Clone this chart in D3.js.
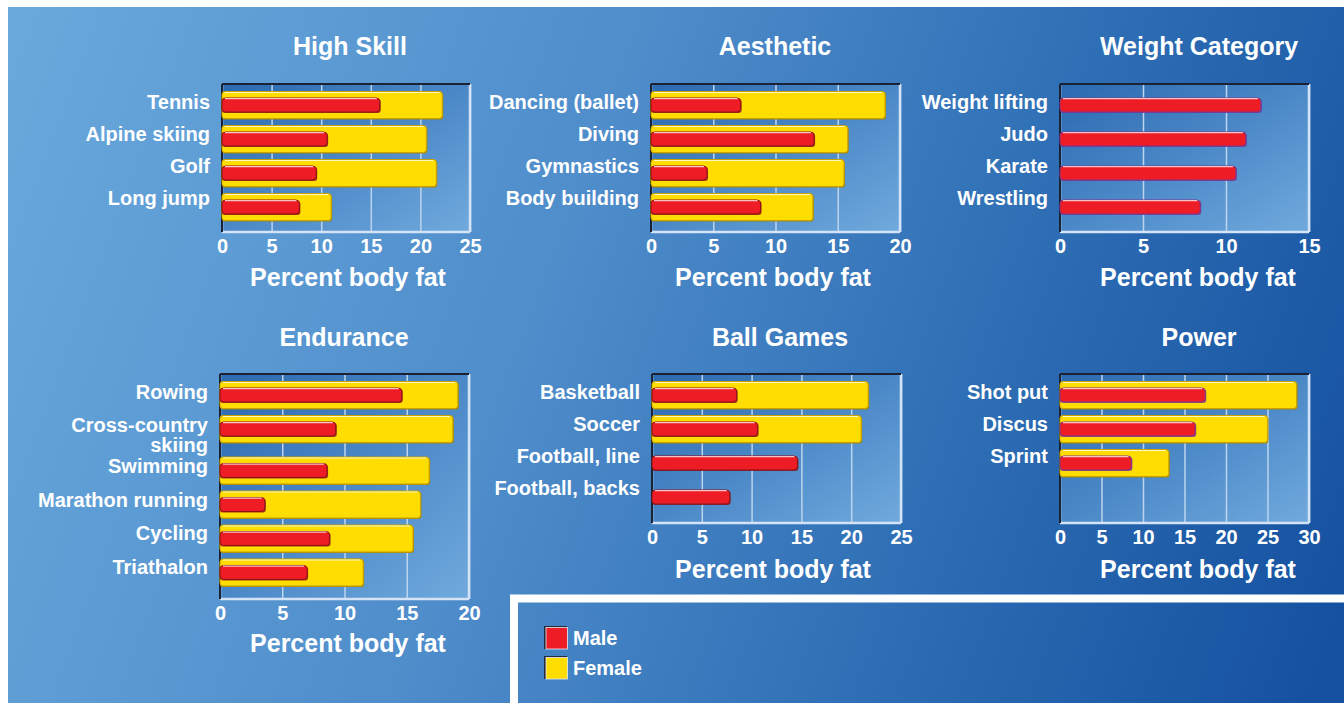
<!DOCTYPE html>
<html>
<head>
<meta charset="utf-8">
<script src="https://cdn.jsdelivr.net/npm/d3@7"></script>
<style>
  html, body { margin: 0; padding: 0; background: #ffffff; }
  svg { display: block; }
  text { font-family: "Liberation Sans", Arial, Helvetica, sans-serif; font-weight: bold; fill: #ffffff; }
</style>
</head>
<body>
<svg id="chart" width="1344" height="703"></svg>
<script>
// ---- Percent body fat by sport group ----
const highSkillSports = ["Tennis", "Alpine skiing", "Golf", "Long jump"];
const highSkillMale   = [15.9, 10.6, 9.5, 7.8];
const highSkillFemale = [22.2, 20.6, 21.6, 11.0];
const highSkillTicks  = [0, 5, 10, 15, 20, 25];

const aestheticSports = ["Dancing (ballet)", "Diving", "Gymnastics", "Body building"];
const aestheticMale   = [7.2, 13.1, 4.5, 8.8];
const aestheticFemale = [18.8, 15.8, 15.5, 13.0];
const aestheticTicks  = [0, 5, 10, 15, 20];

const weightSports = ["Weight lifting", "Judo", "Karate", "Wrestling"];
const weightMale   = [12.1, 11.2, 10.6, 8.45];
const weightFemale = [null, null, null, null];
const weightTicks  = [0, 5, 10, 15];

const enduranceSports = ["Rowing", "Cross-country\nskiing", "Swimming", "Marathon running", "Cycling", "Triathalon"];
const enduranceMale   = [14.6, 9.3, 8.6, 3.6, 8.8, 7.0];
const enduranceFemale = [19.1, 18.7, 16.8, 16.1, 15.5, 11.5];
const enduranceTicks  = [0, 5, 10, 15, 20];

const ballSports = ["Basketball", "Soccer", "Football, line", "Football, backs"];
const ballMale   = [8.5, 10.6, 14.6, 7.8];
const ballFemale = [21.7, 21.0, null, null];
const ballTicks  = [0, 5, 10, 15, 20, 25];

const powerSports = ["Shot put", "Discus", "Sprint"];
const powerMale   = [17.5, 16.3, 8.6];
const powerFemale = [28.5, 25.0, 13.1];
const powerTicks  = [0, 5, 10, 15, 20, 25, 30];

const panelTitles = ["High Skill", "Aesthetic", "Weight Category", "Endurance", "Ball Games", "Power"];
const axisTitle = "Percent body fat";
const legendLabels = ["Male", "Female"];

// ---- layout of each small chart ----
const panels = [
  { title: panelTitles[0], sports: highSkillSports, male: highSkillMale, female: highSkillFemale, ticks: highSkillTicks,
    x0: 222, x1: 470, y0: 84, y1: 232, titleX: 350, titleY: 55, labelX: 348, labelY: 286, drift: 2, maleStroke: "#8a1218" },
  { title: panelTitles[1], sports: aestheticSports, male: aestheticMale, female: aestheticFemale, ticks: aestheticTicks,
    x0: 651, x1: 900, y0: 84, y1: 232, titleX: 775, titleY: 55, labelX: 773, labelY: 286, drift: 2, maleStroke: "#8a1218" },
  { title: panelTitles[2], sports: weightSports, male: weightMale, female: weightFemale, ticks: weightTicks,
    x0: 1060, x1: 1309, y0: 84, y1: 232, titleX: 1199, titleY: 55, labelX: 1198, labelY: 286, drift: 2, maleStroke: "#7a3690" },
  { title: panelTitles[3], sports: enduranceSports, male: enduranceMale, female: enduranceFemale, ticks: enduranceTicks,
    x0: 220, x1: 469, y0: 374, y1: 599, titleX: 344, titleY: 346, labelX: 348, labelY: 652, drift: 0.5, maleStroke: "#8a1218" },
  { title: panelTitles[4], sports: ballSports, male: ballMale, female: ballFemale, ticks: ballTicks,
    x0: 652, x1: 901, y0: 374, y1: 523, titleX: 780, titleY: 346, labelX: 773, labelY: 578, drift: 2, maleStroke: "#8a1218" },
  { title: panelTitles[5], sports: powerSports, male: powerMale, female: powerFemale, ticks: powerTicks,
    x0: 1060, x1: 1309, y0: 374, y1: 523, titleX: 1199, titleY: 346, labelX: 1198, labelY: 578, drift: 2, maleStroke: "#7a3690" }
];

const svg = d3.select("#chart");
const defs = svg.append("defs");

// page background gradient
const bg = defs.append("linearGradient").attr("id", "bgGrad")
  .attr("gradientUnits", "userSpaceOnUse")
  .attr("x1", 0).attr("y1", 100).attr("x2", 1344).attr("y2", 600);
[["0", "#68a8db"], ["0.4", "#4f8dcb"], ["0.7", "#2f6fb5"], ["1", "#1551a0"]]
  .forEach(([o, c]) => bg.append("stop").attr("offset", o).attr("stop-color", c));

// plot area gradient: darker top-left to lighter bottom-right
const pg = defs.append("linearGradient").attr("id", "plotGrad")
  .attr("x1", 0).attr("y1", 0).attr("x2", 1).attr("y2", 1);
[["0", "#2b69b1"], ["0.5", "#4b88c7"], ["1", "#70aadd"]]
  .forEach(([o, c]) => pg.append("stop").attr("offset", o).attr("stop-color", c));

svg.append("rect").attr("x", 8).attr("y", 7).attr("width", 1336).attr("height", 696).attr("fill", "url(#bgGrad)");

function drawPanel(p) {
  const g = svg.append("g");
  const x = d3.scaleLinear().domain([0, p.ticks[p.ticks.length - 1]]).range([p.x0, p.x1]);

  // rows with a two-line label take a little more room
  let extra = 0;
  const slots = p.sports.map(s => {
    const v = extra;
    extra += 1 + (s.split("\n").length - 1) * 0.22;
    return v;
  });
  const y = d3.scaleLinear().domain([0, 1]).range([p.y0 + 7.5, p.y0 + 41.5]);

  // plot area
  g.append("rect").attr("x", p.x0).attr("y", p.y0)
    .attr("width", p.x1 - p.x0).attr("height", p.y1 - p.y0)
    .attr("fill", "url(#plotGrad)");

  // x axis with gridlines
  const axis = g.append("g").attr("transform", `translate(0,${p.y1})`)
    .call(d3.axisBottom(x).tickValues(p.ticks).tickFormat(d3.format("d"))
      .tickSizeInner(-(p.y1 - p.y0)).tickSizeOuter(0).tickPadding(7));
  axis.select(".domain").remove();
  axis.selectAll(".tick line").attr("stroke", "#bcd4ee").attr("stroke-width", 1.5);
  axis.selectAll(".tick text").attr("fill", "#ffffff").attr("font-size", 20)
    .attr("font-family", "Liberation Sans, Arial, sans-serif").attr("font-weight", "bold");

  // frame: dark left/top, light right/bottom
  g.append("line").attr("x1", p.x0).attr("x2", p.x1).attr("y1", p.y1).attr("y2", p.y1)
    .attr("stroke", "#d4e4f6").attr("stroke-width", 2.5);
  g.append("line").attr("x1", p.x1).attr("x2", p.x1).attr("y1", p.y0).attr("y2", p.y1)
    .attr("stroke", "#d4e4f6").attr("stroke-width", 2.5);
  g.append("line").attr("x1", p.x0).attr("x2", p.x1).attr("y1", p.y0).attr("y2", p.y0)
    .attr("stroke", "#1b2233").attr("stroke-width", 2);
  g.append("line").attr("x1", p.x0).attr("x2", p.x0).attr("y1", p.y0).attr("y2", p.y1)
    .attr("stroke", "#1b2233").attr("stroke-width", 2);

  const rows = p.sports.map((s, i) => ({ sport: s, male: p.male[i], female: p.female[i], slot: slots[i], i }));

  // female bars
  const fem = rows.filter(d => d.female != null);
  g.selectAll(".fshadow").data(fem).join("rect")
    .attr("x", x(0)).attr("y", d => y(d.slot) + 1)
    .attr("width", d => x(d.female) - x(0) + 1).attr("height", 27)
    .attr("rx", 3).attr("fill", "#a88a00");
  g.selectAll(".fbar").data(fem).join("rect")
    .attr("x", x(0)).attr("y", d => y(d.slot))
    .attr("width", d => x(d.female) - x(0)).attr("height", 27)
    .attr("rx", 3).attr("fill", "#ffdd00").attr("stroke", "#c9a200").attr("stroke-width", 1);
  g.selectAll(".fhi").data(fem).join("line")
    .attr("x1", x(0) + 3).attr("x2", d => x(d.female) - 3)
    .attr("y1", d => y(d.slot) + 1).attr("y2", d => y(d.slot) + 1)
    .attr("stroke", "#fff7c8").attr("stroke-width", 1.2);

  // male bars
  g.selectAll(".mshadow").data(rows).join("rect")
    .attr("x", x(0)).attr("y", d => y(d.slot) + 6.5 + 1)
    .attr("width", d => x(d.male) - x(0) + 1).attr("height", 14)
    .attr("rx", 3).attr("fill", p.maleStroke).attr("opacity", 0.8);
  g.selectAll(".mbar").data(rows).join("rect")
    .attr("x", x(0)).attr("y", d => y(d.slot) + 6.5)
    .attr("width", d => x(d.male) - x(0)).attr("height", 14)
    .attr("rx", 3.5).attr("fill", "#ee1c25").attr("stroke", p.maleStroke).attr("stroke-width", 1);
  g.selectAll(".mhi").data(rows).join("line")
    .attr("x1", x(0) + 3).attr("x2", d => x(d.male) - 3)
    .attr("y1", d => y(d.slot) + 7.2).attr("y2", d => y(d.slot) + 7.2)
    .attr("stroke", "#f7c3c6").attr("stroke-width", 1.2);

  // category labels
  const lab = g.selectAll(".cat").data(rows).join("text")
    .attr("x", p.x0 - 12)
    .attr("y", d => y(d.slot) + 13.5 - 3.5 - p.drift * d.i)
    .attr("text-anchor", "end").attr("font-size", 20);
  lab.each(function (d) {
    const t = d3.select(this);
    d.sport.split("\n").forEach((line, k) => {
      t.append("tspan").attr("x", p.x0 - 12)
        .attr("dy", k === 0 ? "0.36em" : "0.98em").text(line);
    });
  });

  // titles
  g.append("text").attr("x", p.titleX).attr("y", p.titleY)
    .attr("text-anchor", "middle").attr("font-size", 25).text(p.title);
  g.append("text").attr("x", p.labelX).attr("y", p.labelY)
    .attr("text-anchor", "middle").attr("font-size", 25).text(axisTitle);
}

panels.forEach(drawPanel);

// legend box
svg.append("rect").attr("x", 514).attr("y", 598.5).attr("width", 900).attr("height", 200)
  .attr("fill", "none").attr("stroke", "#ffffff").attr("stroke-width", 8);

const legendColors = ["#ee1c25", "#ffdd00"];
const ly = d3.scaleLinear().domain([0, 1]).range([626, 656]);
const leg = svg.append("g");
legendLabels.forEach((name, i) => {
  leg.append("rect").attr("x", 544).attr("y", ly(i)).attr("width", 23).attr("height", 23).attr("fill", "#262a36");
  leg.append("rect").attr("x", 546).attr("y", ly(i) + 1.5).attr("width", 21.5).attr("height", 21.5)
    .attr("fill", legendColors[i]).attr("stroke", "#e8eef8").attr("stroke-width", 0.8);
  leg.append("text").attr("x", 573).attr("y", ly(i) + 12).attr("dy", "0.36em")
    .attr("font-size", 20).text(name);
});
</script>
</body>
</html>
